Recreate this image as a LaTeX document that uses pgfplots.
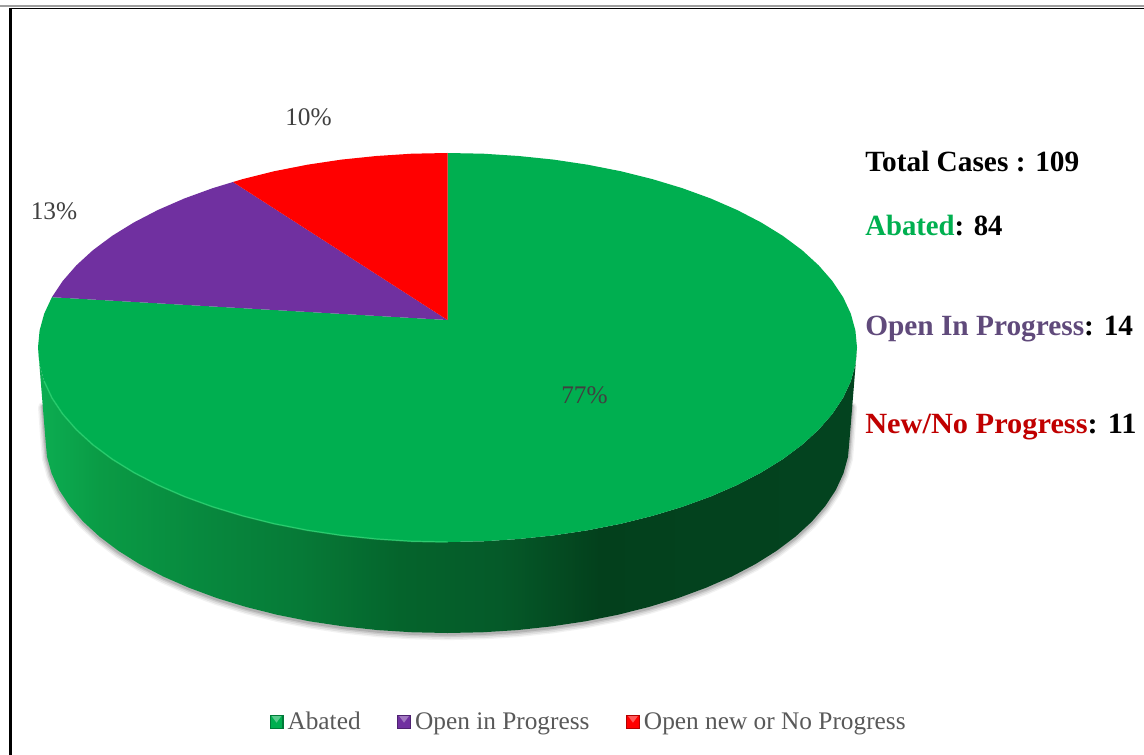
\documentclass[border=0pt]{standalone}
\usepackage{pgfplots}
\usepackage{pgfplotstable}
\usepackage{fontspec}
\pgfplotsset{compat=1.18}
\setmainfont{Liberation Serif}
\definecolor{gA}{HTML}{00AF50}
\definecolor{pA}{HTML}{7030A0}
\definecolor{rA}{HTML}{FF0000}
\definecolor{edgeA}{HTML}{2ED573}
\definecolor{s1}{HTML}{0CAE52}
\definecolor{s2}{HTML}{0A9B45}
\definecolor{s3}{HTML}{07893E}
\definecolor{s4}{HTML}{067A37}
\definecolor{s5}{HTML}{05642C}
\definecolor{s6}{HTML}{055A29}
\definecolor{s7}{HTML}{03401C}
\definecolor{s8}{HTML}{03421E}
\definecolor{s9}{HTML}{03431F}
\pgfdeclarehorizontalshading{pieside}{100bp}{color(0bp)=(s1); color(25bp)=(s1); color(28.8bp)=(s2); color(34.9bp)=(s3); color(41bp)=(s4); color(47.1bp)=(s5); color(53.2bp)=(s6); color(59.3bp)=(s7); color(65.4bp)=(s8); color(75bp)=(s9); color(100bp)=(s9)}
% slice outlines, in pixels of the picture; shares: Abated 77, Open in Progress 13, Open new or No Progress 10
\pgfplotstableread{
x y
447.5 320
447.5 153
483.2 153.7
518.6 156.0
553.5 159.6
587.5 164.7
620.6 171.2
652.3 179.1
682.4 188.2
710.7 198.5
737.1 210.0
761.2 222.5
782.9 235.9
802.1 250.2
818.6 265.3
832.3 281.0
843.1 297.2
850.8 313.7
855.4 330.5
857 347.5
855.4 364.5
850.8 381.3
843.1 397.8
832.3 414.0
818.6 429.7
802.1 444.8
782.9 459.1
761.2 472.5
737.1 485.0
710.7 496.5
682.4 506.8
652.3 515.9
620.6 523.8
587.5 530.3
553.5 535.4
518.6 539.0
483.2 541.3
447.5 542
411.8 541.3
376.4 539.0
341.5 535.4
307.5 530.3
274.4 523.8
242.7 515.9
212.6 506.8
184.3 496.5
157.9 485.0
133.8 472.5
112.1 459.1
92.9 444.8
76.4 429.7
62.7 414.0
51.9 397.8
44.2 381.3
39.6 364.5
38 347.5
39.6 330.5
44.2 313.7
51.9 297.2
447.5 320
}\greenslice
\pgfplotstableread{
x y
447.5 320
51.9 297.2
62.7 281.0
76.4 265.3
92.9 250.2
112.1 235.9
133.8 222.5
157.9 210.0
184.3 198.5
212.6 188.2
233 182
447.5 320
}\purpleslice
\pgfplotstableread{
x y
447.5 320
233 182
242.7 179.1
274.4 171.2
307.5 164.7
341.5 159.6
376.4 156.0
411.8 153.7
447.5 153
447.5 320
}\redslice
\pgfplotstableread{
x y
38 347.5
39.6 364.5
44.2 381.3
51.9 397.8
62.7 414.0
76.4 429.7
92.9 444.8
112.1 459.1
133.8 472.5
157.9 485.0
184.3 496.5
212.6 506.8
242.7 515.9
274.4 523.8
307.5 530.3
341.5 535.4
376.4 539.0
411.8 541.3
447.5 542
483.2 541.3
518.6 539.0
553.5 535.4
587.5 530.3
620.6 523.8
652.3 515.9
682.4 506.8
710.7 496.5
737.1 485.0
761.2 472.5
782.9 459.1
802.1 444.8
818.6 429.7
832.3 414.0
843.1 397.8
850.8 381.3
855.4 364.5
857 347.5
849.5 440
848.0 456.8
843.4 473.5
835.8 490.0
825.3 506.0
811.8 521.6
795.6 536.5
776.8 550.7
755.4 564.1
731.8 576.5
705.9 587.8
678.1 598.1
648.5 607.1
617.4 614.9
585 621.4
551.5 626.4
517.3 630.1
482.6 632.3
447.5 633
412.4 632.3
377.7 630.1
343.5 626.4
310 621.4
277.6 614.9
246.5 607.1
216.9 598.1
189.1 587.8
163.2 576.5
139.6 564.1
118.2 550.7
99.4 536.5
83.2 521.6
69.7 506.0
59.2 490.0
51.6 473.5
47 456.8
45.5 440
}\sidewall
\pgfplotstableread{
x y
852 405
849.5 440
848.0 456.8
843.4 473.5
835.8 490.0
825.3 506.0
811.8 521.6
795.6 536.5
776.8 550.7
755.4 564.1
731.8 576.5
705.9 587.8
678.1 598.1
648.5 607.1
617.4 614.9
585 621.4
551.5 626.4
517.3 630.1
482.6 632.3
447.5 633
412.4 632.3
377.7 630.1
343.5 626.4
310 621.4
277.6 614.9
246.5 607.1
216.9 598.1
189.1 587.8
163.2 576.5
139.6 564.1
118.2 550.7
99.4 536.5
83.2 521.6
69.7 506.0
59.2 490.0
51.6 473.5
47 456.8
45.5 440
43 405
}\lowerrim
\pgfplotstableread{
x y
44.2 381.3
51.9 397.8
62.7 414.0
76.4 429.7
92.9 444.8
112.1 459.1
133.8 472.5
157.9 485.0
184.3 496.5
212.6 506.8
242.7 515.9
274.4 523.8
307.5 530.3
341.5 535.4
376.4 539.0
411.8 541.3
447.5 542
}\lightedge
\newcommand{\legendkey}[2]{%
  \fill[#2] (0pt,-5.2pt) rectangle (10.5pt,5.2pt);
  \fill[#1] (0.9pt,-4.3pt) rectangle (9.6pt,4.4pt);
  \fill[#1!65!white] (1.6pt,4.4pt) -- (8.9pt,4.4pt) -- (5.25pt,-0.5pt) -- cycle;
}
\begin{document}
\begin{tikzpicture}
\begin{axis}[
  scale only axis, width=858pt, height=566.25pt,
  xmin=0, xmax=1144, ymin=0, ymax=755, y dir=reverse,
  hide axis, clip=true,
  legend columns=3,
  legend cell align=left,
  legend style={at={(axis cs:269.5,722)}, anchor=west, draw=none, fill=none, inner sep=0pt, outer sep=0pt,
    font=\fontsize{19}{20}\selectfont, text=black!65,
    nodes={inner sep=0pt, outer sep=0pt},
    /tikz/every even column/.append style={column sep=27.3pt},
    /tikz/every odd column/.append style={column sep=3pt}},
]
% white page, keeps the bounding box at the full picture
\addplot[forget plot, draw=none, fill=white] coordinates {(0,0) (1144,0) (1144,755) (0,755)} -- cycle;
% frame
\addplot[forget plot, draw=black!38, line width=1.6pt] coordinates {(0,6) (1144,6)};
\addplot[forget plot, draw=black, line width=1.2pt] coordinates {(10,8.6) (1144,8.6)};
\addplot[forget plot, draw=black, line width=1.9pt] coordinates {(10.5,8) (10.5,755)};
% soft shadow beneath the wall
\addplot[forget plot, draw=black, opacity=0.05, line width=7.5pt, line join=round, line cap=round, yshift=-1.6pt] table[x=x,y=y] {\lowerrim};
\addplot[forget plot, draw=black, opacity=0.07, line width=5.5pt, line join=round, line cap=round, yshift=-1.6pt] table[x=x,y=y] {\lowerrim};
\addplot[forget plot, draw=black, opacity=0.09, line width=3.5pt, line join=round, line cap=round, yshift=-1.3pt] table[x=x,y=y] {\lowerrim};
\addplot[forget plot, draw=black, opacity=0.12, line width=2pt, line join=round, line cap=round, yshift=-1pt] table[x=x,y=y] {\lowerrim};
% wall
\addplot[forget plot, draw=none, shading=pieside] table[x=x,y=y] {\sidewall} -- cycle;
% top face slices
\addplot[draw=none, fill=gA, legend image code/.code={\legendkey{gA}{gA!70!black}}] table[x=x,y=y] {\greenslice} -- cycle;
\addlegendentry{Abated}
\addplot[draw=none, fill=pA, legend image code/.code={\legendkey{pA}{pA!70!black}}] table[x=x,y=y] {\purpleslice} -- cycle;
\addlegendentry{Open in Progress}
\addplot[draw=none, fill=rA, legend image code/.code={\legendkey{rA}{rA!70!black}}] table[x=x,y=y] {\redslice} -- cycle;
\addlegendentry{Open new or No Progress}
% light rim of the top face
\addplot[forget plot, draw=edgeA, opacity=0.7, line width=1.1pt, line cap=round, line join=round] table[x=x,y=y] {\lightedge};
% data labels
\node[text=black!75, font=\fontsize{19}{20}\selectfont] at (axis cs:308.5,117) {10\%};
\node[text=black!75, font=\fontsize{19}{20}\selectfont] at (axis cs:54,211) {13\%};
\node[text=black!75, font=\fontsize{19}{20}\selectfont] at (axis cs:584.5,395) {77\%};
% side notes
\node[anchor=base west, inner sep=0pt, font=\bfseries\fontsize{22}{24}\selectfont] at (axis cs:865,172) {Total Cases : 109};
\node[anchor=base west, inner sep=0pt, font=\bfseries\fontsize{22}{24}\selectfont] at (axis cs:865,236) {\addfontfeature{FakeStretch=0.98}\textcolor[HTML]{00B050}{Abated}: 84};
\node[anchor=base west, inner sep=0pt, font=\bfseries\fontsize{22}{24}\selectfont] at (axis cs:865,335) {\textcolor[HTML]{604A7B}{Open In Progress}: 14};
\node[anchor=base west, inner sep=0pt, font=\bfseries\fontsize{22}{24}\selectfont] at (axis cs:865,433) {\addfontfeature{FakeStretch=1.035}\textcolor[HTML]{C00000}{New/No Progress}: 11};
\end{axis}
\end{tikzpicture}
\end{document}
